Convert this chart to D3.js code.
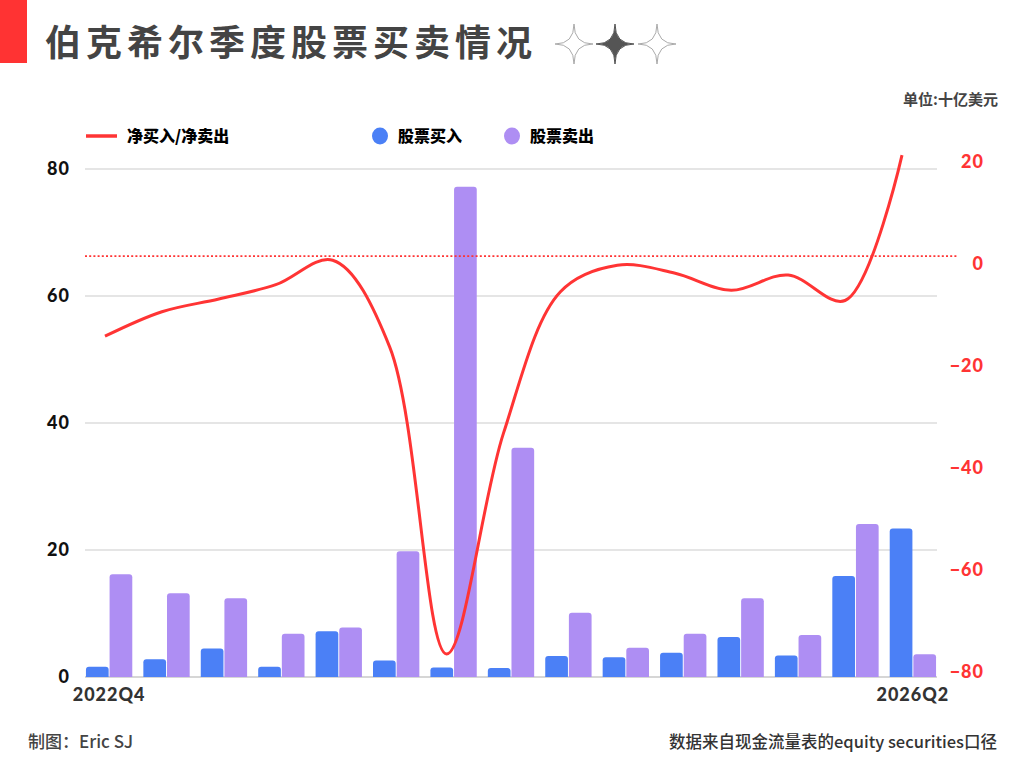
<!DOCTYPE html>
<html>
<head>
<meta charset="utf-8">
<script src="https://cdn.jsdelivr.net/npm/d3@7"></script>
<style>
  body { margin: 0; background: #fff; }
  svg { display: block; }
  .cjk { font-family: "Noto Sans CJK SC", "Noto Sans", sans-serif; }
  .num { font-family: Lato, "Noto Sans", sans-serif; font-weight: 900; letter-spacing: 1px; }
</style>
</head>
<body>
<div id="chart"></div>
<script>
const width = 1024;
const height = 768;

const quarters = ["2022Q4", "2023Q1", "2023Q2", "2023Q3", "2023Q4", "2024Q1", "2024Q2", "2024Q3",
    "2024Q4", "2025Q1", "2025Q2", "2025Q3", "2025Q4", "2026Q1", "2026Q2"];
const buys = [1.6, 2.8, 4.5, 1.6, 7.2, 2.6, 1.5, 1.4, 3.3, 3.1, 3.8, 6.3, 3.4, 15.9, 23.4];
const sells = [16.2, 13.2, 12.4, 6.8, 7.8, 19.8, 77.2, 36.1, 10.1, 4.6, 6.8, 12.4, 6.6, 24.1, 3.6];
const net = [-15.7, -10.9, -8.4, -5.6, -0.8, -17.8, -78.0, -34.7, -7.0, -1.8, -3.3, -6.7, -3.7, -8.7, 19.8];
const leftTicks = [0, 20, 40, 60, 80];
const rightTicks = [-80, -60, -40, -20, 0, 20];

const blue = "#4b80f6";
const purple = "#ae8ef3";
const red = "#ff3434";

const plot = { left: 85, right: 937, top: 150, bottom: 677 };

const svg = d3.select("#chart").append("svg")
    .attr("width", width)
    .attr("height", height);

// header
svg.append("rect").attr("x", 0).attr("y", 0).attr("width", 27).attr("height", 63).attr("fill", "#ff3333");
svg.append("text").attr("class", "cjk")
    .attr("x", 45).attr("y", 56)
    .attr("font-size", 36).attr("font-weight", 700)
    .attr("letter-spacing", 5)
    .attr("fill", "#444")
    .text("伯克希尔季度股票买卖情况");

function sparkle(w, h) {
    return `M0,${-h} Q0,0 ${w},0 Q0,0 0,${h} Q0,0 ${-w},0 Q0,0 0,${-h}Z`;
}
[{ cx: 574, fill: "none" }, { cx: 615, fill: "#555" }, { cx: 657, fill: "none" }].forEach(s => {
    svg.append("path")
        .attr("d", sparkle(19, 20))
        .attr("transform", `translate(${s.cx},44)`)
        .attr("fill", s.fill)
        .attr("stroke", s.fill === "none" ? "#aaa" : "#555")
        .attr("stroke-width", 1);
});

svg.append("text").attr("class", "cjk")
    .attr("x", 998).attr("y", 105)
    .attr("text-anchor", "end")
    .attr("font-size", 15).attr("font-weight", 700)
    .attr("fill", "#444")
    .text("单位:十亿美元");

// scales
const x0 = d3.scaleBand().domain(quarters).range([plot.left, plot.right]).paddingInner(0.16).paddingOuter(0);
const x1 = d3.scaleBand().domain(["buy", "sell"]).range([0, x0.bandwidth()]).padding(0.04);
const xLine = d3.scalePoint().domain(quarters).range([105, 902]);
const yLeft = d3.scaleLinear().domain([0, 83]).range([plot.bottom, plot.top]);
const yRight = d3.scaleLinear().domain([-82.5, 20.8]).range([plot.bottom, plot.top]);

// gridlines
svg.append("g")
    .selectAll("line")
    .data(leftTicks)
    .join("line")
    .attr("x1", plot.left).attr("x2", plot.right)
    .attr("y1", d => yLeft(d)).attr("y2", d => yLeft(d))
    .attr("stroke", d => d === 0 ? "#c8c8c8" : "#dddddd")
    .attr("stroke-width", 1.5);

// left axis
const leftAxis = svg.append("g")
    .attr("transform", `translate(${plot.left},0)`)
    .call(d3.axisLeft(yLeft).tickValues(leftTicks).tickSize(0).tickPadding(15));
leftAxis.select(".domain").remove();
leftAxis.selectAll("text").attr("class", "num").attr("font-size", 18).attr("fill", "#111");

// right axis
const rightAxis = svg.append("g")
    .attr("transform", `translate(984,0)`)
    .call(d3.axisRight(yRight).tickValues(rightTicks).tickSize(0).tickPadding(0).tickFormat(d3.format("d")));
rightAxis.select(".domain").remove();
rightAxis.selectAll("text")
    .attr("class", "num")
    .attr("text-anchor", "end")
    .attr("dy", "0.75em")
    .attr("font-size", 18).attr("fill", red);

// x axis: only first and last labels
const xAxis = svg.append("g")
    .attr("transform", `translate(0,${plot.bottom})`)
    .call(d3.axisBottom(x0).tickValues([quarters[0], quarters[quarters.length - 1]]).tickSize(0).tickPadding(11));
xAxis.select(".domain").remove();
xAxis.selectAll("text").attr("class", "num").attr("font-size", 18).attr("fill", "#333");

// bars with rounded tops
function topRounded(x, y, w, h, r) {
    r = Math.min(r, h, w / 2);
    return `M${x},${y + h} V${y + r} Q${x},${y} ${x + r},${y} H${x + w - r} Q${x + w},${y} ${x + w},${y + r} V${y + h} Z`;
}
const barData = quarters.flatMap((q, i) => [
    { q, key: "buy", value: buys[i] },
    { q, key: "sell", value: sells[i] }
]);
svg.append("g")
    .selectAll("path")
    .data(barData)
    .join("path")
    .attr("d", d => topRounded(x0(d.q) + x1(d.key), yLeft(d.value), x1.bandwidth(), yLeft(0) - yLeft(d.value), 3))
    .attr("fill", d => d.key === "buy" ? blue : purple);

// zero line of net
svg.append("line")
    .attr("x1", plot.left).attr("x2", 957)
    .attr("y1", yRight(0)).attr("y2", yRight(0))
    .attr("stroke", red)
    .attr("stroke-width", 1.8)
    .attr("stroke-dasharray", "2,2.2");

// net line
const line = d3.line()
    .x((d, i) => xLine(quarters[i]))
    .y(d => yRight(d))
    .curve(d3.curveCatmullRom.alpha(0.5));
svg.append("path")
    .datum(net)
    .attr("d", line)
    .attr("fill", "none")
    .attr("stroke", red)
    .attr("stroke-width", 3);

// legend
const legend = svg.append("g").attr("class", "cjk").attr("font-weight", 900).attr("font-size", 16).attr("fill", "#000");
legend.append("line").attr("x1", 86).attr("x2", 117).attr("y1", 136).attr("y2", 136).attr("stroke", red).attr("stroke-width", 3.5);
legend.append("text").attr("x", 127).attr("y", 142).text("净买入/净卖出");
legend.append("ellipse").attr("cx", 380).attr("cy", 136).attr("rx", 8).attr("ry", 8.5).attr("fill", blue);
legend.append("text").attr("x", 398).attr("y", 142).text("股票买入");
legend.append("ellipse").attr("cx", 512).attr("cy", 136).attr("rx", 8).attr("ry", 8.5).attr("fill", purple);
legend.append("text").attr("x", 530).attr("y", 142).text("股票卖出");

// footer
svg.append("text").attr("class", "cjk")
    .attr("x", 28).attr("y", 748)
    .attr("font-size", 17).attr("font-weight", 500)
    .attr("fill", "#444")
    .text("制图：Eric SJ");
svg.append("text").attr("class", "cjk")
    .attr("x", 997).attr("y", 748)
    .attr("text-anchor", "end")
    .attr("font-size", 16.5).attr("font-weight", 500)
    .attr("fill", "#333")
    .text("数据来自现金流量表的equity securities口径");
</script>
</body>
</html>
